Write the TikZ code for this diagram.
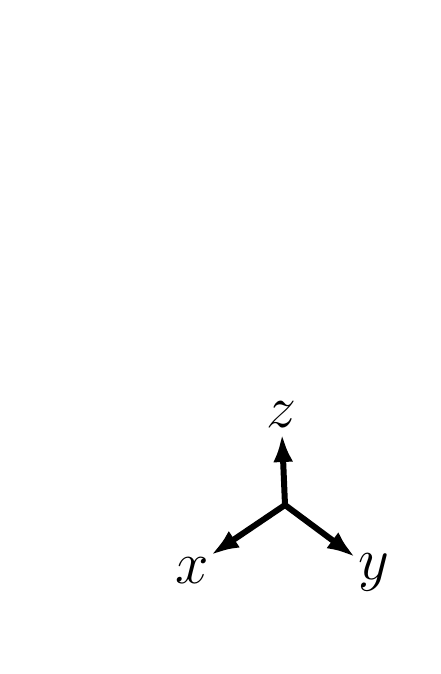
\documentclass[tikz,border=0pt]{standalone}
\usepackage{fix-cm}
\usetikzlibrary{arrows.meta}

\begin{document}
\begin{tikzpicture}[x=0.5pt, y=-0.5pt,
    eje/.style={line width=3pt, -{Latex[length=14pt,width=10pt]}},
    etiqueta/.style={font=\fontsize{30}{36}\selectfont}]
    % marco de la imagen
    \useasboundingbox (0,0) rectangle (440,674);

    % origen y extremos de los ejes
    \coordinate (o) at (285,505);
    \coordinate (zt) at (282,434);
    \coordinate (xt) at (211,555);
    \coordinate (yt) at (355,557);

    \draw[eje] (o) -- (zt);
    \draw[eje] (o) -- (xt);
    \draw[eje] (o) -- (yt);

    % nombres de los ejes
    \node[etiqueta] (z) at (281,415) {$z$};
    \node[etiqueta] (x) at (192,571) {$x$};
    \node[etiqueta] (y) at (374,572) {$y$};
\end{tikzpicture}
\end{document}
